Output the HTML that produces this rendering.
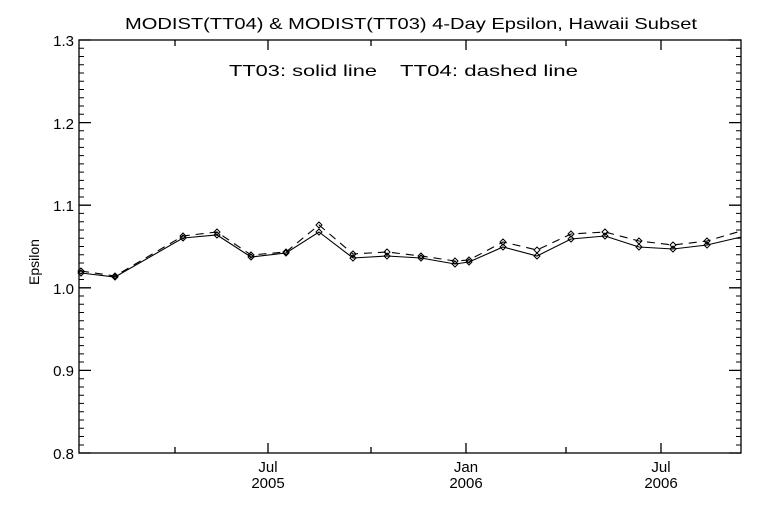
<!DOCTYPE html>
<html><head><style>
html,body{margin:0;padding:0;background:#fff;}
svg{display:block;font-family:"Liberation Sans",sans-serif;}
</style></head><body>
<svg width="768" height="512" viewBox="0 0 768 512" xmlns="http://www.w3.org/2000/svg">
<rect width="768" height="512" fill="#fff"/>
<g stroke="#000" stroke-width="1.3" fill="none">
<rect x="79" y="40" width="662" height="413"/>
<path d="M79 453h12M79 370.4h12M79 287.8h12M79 205.2h12M79 122.6h12M79 40h12M741 453h-12M741 370.4h-12M741 287.8h-12M741 205.2h-12M741 122.6h-12M741 40h-12"/>
<path d="M268 453v-10M466 453v-10M661 453v-10M175 453v-6M371 453v-6M566 453v-6M268 40v10M466 40v10M661 40v10M175 40v6M371 40v6M566 40v6"/>
<path stroke-width="1" d="
M79 445h5M79 436.5h5M79 428.3h5M79 420h5M79 411.7h5M79 403.4h5M79 395.2h5M79 387h5M79 378.7h5
M79 362h5M79 353.9h5M79 345.6h5M79 337.4h5M79 329h5M79 320.8h5M79 312.5h5M79 304.3h5M79 296h5
M79 279.5h5M79 271.3h5M79 263h5M79 254.7h5M79 246.5h5M79 238.2h5M79 230h5M79 221.7h5M79 213.4h5
M79 197h5M79 188.7h5M79 180.4h5M79 172.1h5M79 163.9h5M79 155.6h5M79 147.4h5M79 139h5M79 130.8h5
M79 114.3h5M79 106h5M79 97.8h5M79 89.5h5M79 81.3h5M79 73h5M79 64.8h5M79 56.5h5M79 48.3h5
M741 445h-5M741 436.5h-5M741 428.3h-5M741 420h-5M741 411.7h-5M741 403.4h-5M741 395.2h-5M741 387h-5M741 378.7h-5
M741 362h-5M741 353.9h-5M741 345.6h-5M741 337.4h-5M741 329h-5M741 320.8h-5M741 312.5h-5M741 304.3h-5M741 296h-5
M741 279.5h-5M741 271.3h-5M741 263h-5M741 254.7h-5M741 246.5h-5M741 238.2h-5M741 230h-5M741 221.7h-5M741 213.4h-5
M741 197h-5M741 188.7h-5M741 180.4h-5M741 172.1h-5M741 163.9h-5M741 155.6h-5M741 147.4h-5M741 139h-5M741 130.8h-5
M741 114.3h-5M741 106h-5M741 97.8h-5M741 89.5h-5M741 81.3h-5M741 73h-5M741 64.8h-5M741 56.5h-5M741 48.3h-5"/>
</g>
<g stroke="#000" stroke-width="1.1" fill="none">
<polyline points="81,273 115,277 183,238 217,235 251,257 286,253 319,232 353,258 387,256 421,258 455,264 469,262 503,247 537,256 571,239 605,236 639,247 673,249 707,245 741,237"/>
<polyline stroke-dasharray="8,6" points="81,271 115,276 183,236 217,232 251,255 286,252 319,225 353,254 387,252 421,256 455,261 469,260 503,242 537,250 571,234 605,232 639,241 673,245 707,241 741,231"/>
</g>
<g stroke="#000" stroke-width="1" fill="none">
<path d="M81 270l3 3-3 3-3-3zM115 274l3 3-3 3-3-3zM183 235l3 3-3 3-3-3zM217 232l3 3-3 3-3-3zM251 254l3 3-3 3-3-3zM286 250l3 3-3 3-3-3zM319 229l3 3-3 3-3-3zM353 255l3 3-3 3-3-3zM387 253l3 3-3 3-3-3zM421 255l3 3-3 3-3-3zM455 261l3 3-3 3-3-3zM469 259l3 3-3 3-3-3zM503 244l3 3-3 3-3-3zM537 253l3 3-3 3-3-3zM571 236l3 3-3 3-3-3zM605 233l3 3-3 3-3-3zM639 244l3 3-3 3-3-3zM673 246l3 3-3 3-3-3zM707 242l3 3-3 3-3-3z"/>
<path d="M81 268l3 3-3 3-3-3zM115 273l3 3-3 3-3-3zM183 233l3 3-3 3-3-3zM217 229l3 3-3 3-3-3zM251 252l3 3-3 3-3-3zM286 249l3 3-3 3-3-3zM319 222l3 3-3 3-3-3zM353 251l3 3-3 3-3-3zM387 249l3 3-3 3-3-3zM421 253l3 3-3 3-3-3zM455 258l3 3-3 3-3-3zM469 257l3 3-3 3-3-3zM503 239l3 3-3 3-3-3zM537 247l3 3-3 3-3-3zM571 231l3 3-3 3-3-3zM605 229l3 3-3 3-3-3zM639 238l3 3-3 3-3-3zM673 242l3 3-3 3-3-3zM707 238l3 3-3 3-3-3z"/>
</g>
<g fill="#000">
<text x="125" y="29" textLength="572" lengthAdjust="spacingAndGlyphs" font-size="16">MODIST(TT04) &amp; MODIST(TT03) 4-Day Epsilon, Hawaii Subset</text>
<text x="229" y="76" textLength="148" lengthAdjust="spacingAndGlyphs" font-size="16">TT03: solid line</text>
<text x="400" y="76" textLength="178" lengthAdjust="spacingAndGlyphs" font-size="16">TT04: dashed line</text>
<g text-anchor="end" font-size="15">
<text x="74" y="459">0.8</text>
<text x="74" y="376">0.9</text>
<text x="74" y="294">1.0</text>
<text x="74" y="211">1.1</text>
<text x="74" y="129">1.2</text>
<text x="74" y="46">1.3</text>
</g>
<g text-anchor="middle" font-size="15">
<text x="268" y="472">Jul</text><text x="268" y="488">2005</text>
<text x="466" y="472">Jan</text><text x="466" y="488">2006</text>
<text x="661" y="472">Jul</text><text x="661" y="488">2006</text>
</g>
<text x="39" y="262" text-anchor="middle" font-size="14" transform="rotate(-90 39 262)">Epsilon</text>
</g>
</svg>
</body></html>
